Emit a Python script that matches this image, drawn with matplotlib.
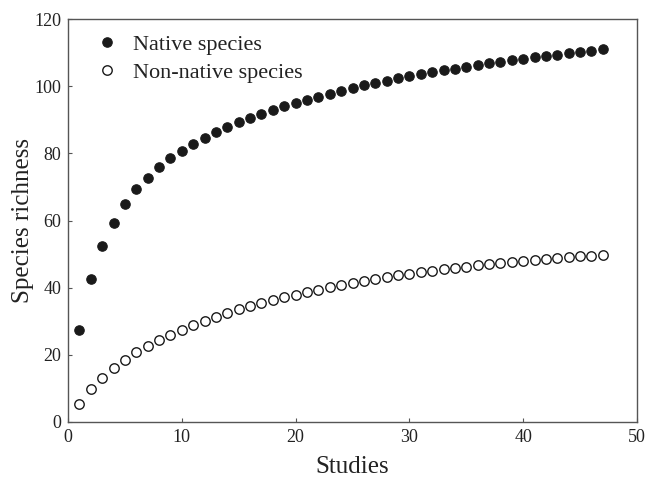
import matplotlib
matplotlib.use("Agg")
import matplotlib.pyplot as plt

studies = list(range(1, 48))
native = [27.5, 42.5, 52.3, 59.3, 64.8, 69.3, 72.8, 75.8, 78.5, 80.8,
          82.8, 84.6, 86.3, 87.8, 89.2, 90.5, 91.7, 92.9, 94.0, 95.0,
          96.0, 96.9, 97.8, 98.6, 99.4, 100.2, 100.9, 101.6, 102.3, 102.9,
          103.5, 104.1, 104.7, 105.2, 105.8, 106.3, 106.8, 107.3, 107.7, 108.2,
          108.6, 109.0, 109.4, 109.8, 110.2, 110.6, 111.0]
nonnative = [5.5, 9.8, 13.2, 16.0, 18.5, 20.7, 22.6, 24.4, 26.0, 27.5,
             28.9, 30.1, 31.3, 32.4, 33.5, 34.5, 35.4, 36.3, 37.1, 37.9,
             38.7, 39.4, 40.1, 40.8, 41.4, 42.0, 42.6, 43.2, 43.7, 44.2,
             44.7, 45.1, 45.5, 45.9, 46.3, 46.7, 47.0, 47.3, 47.6, 47.9,
             48.2, 48.5, 48.8, 49.0, 49.3, 49.5, 49.8]
xticks = [0, 10, 20, 30, 40, 50]
yticks = [0, 20, 40, 60, 80, 100, 120]

plt.rcParams['font.family'] = ['Liberation Serif', 'DejaVu Serif']

fig = plt.figure(figsize=(6.47, 4.78), dpi=100)
ax = fig.add_axes([68/647, 1 - 422/478, (637-68)/647, (422-19)/478])

ax.plot(studies, native, 'o', color='#1a1a1a', markersize=6.8, markeredgewidth=0.8,
        label='Native species')
ax.plot(studies, nonnative, 'o', markerfacecolor='white', markeredgecolor='#1a1a1a',
        markersize=6.8, markeredgewidth=1.0, label='Non-native species')

ax.set_xlim(0, 50)
ax.set_ylim(0, 120)
ax.set_xticks(xticks)
ax.set_yticks(yticks)
ax.tick_params(direction='in', length=3, width=0.8, color='#555555', labelsize=13,
               labelcolor='#222222', pad=5)
for s in ax.spines.values():
    s.set_color('#555555')
    s.set_linewidth(1.0)

ax.set_xlabel('Studies', fontsize=18, labelpad=7, color='#222222')
ax.set_ylabel('Species richness', fontsize=18, labelpad=0, color='#222222')

leg = ax.legend(loc='upper left', frameon=False, fontsize=16, handletextpad=0.68,
                handlelength=1.0, borderaxespad=0, borderpad=0, labelspacing=0.34,
                bbox_to_anchor=(0.049, 0.962))
for t in leg.get_texts():
    t.set_color('#222222')

fig.savefig('out.png', dpi=100)
